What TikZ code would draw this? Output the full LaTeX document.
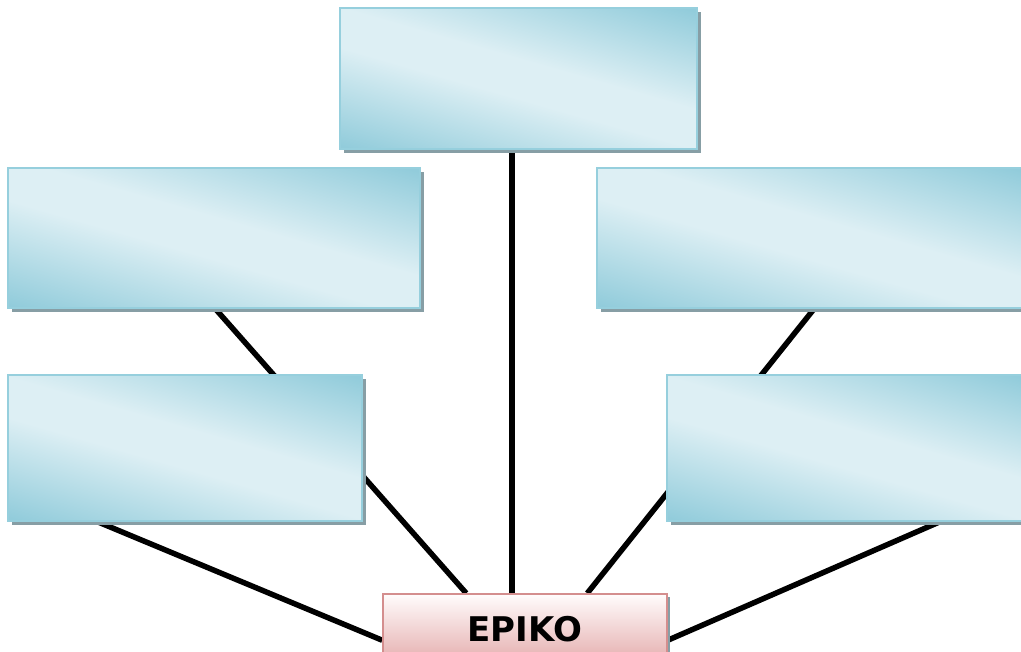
\documentclass[tikz,border=0pt]{standalone}
\usepackage{fontspec}
\setmainfont{DejaVu Sans}
\usetikzlibrary{calc,shadows,backgrounds}
\definecolor{bdark}{RGB}{146,204,219}
\definecolor{blight}{RGB}{221,239,244}
\definecolor{bborder}{RGB}{150,207,221}
\definecolor{shad}{RGB}{135,158,165}
\definecolor{ptop}{RGB}{255,252,252}
\definecolor{pbot}{RGB}{228,172,172}
\definecolor{pborder}{RGB}{212,142,142}
\pgfdeclareverticalshading{boxshade}{100bp}{color(0bp)=(bdark); color(20bp)=(bdark); color(45bp)=(blight); color(55bp)=(blight); color(80bp)=(bdark); color(100bp)=(bdark)}
\tikzset{
  bluebox/.style={draw=bborder, line width=2.5pt, inner sep=0pt,
    shading=boxshade, shading angle=-16,
    general shadow={fill=shad, shadow xshift=4pt, shadow yshift=-4pt}},
  pinkbox/.style={draw=pborder, line width=1.5pt, inner sep=0pt,
    top color=ptop, bottom color=pbot,
    general shadow={fill=shad, shadow xshift=3pt, shadow yshift=-3pt},
    font=\fontsize{34}{40}\selectfont\bfseries},
  conn/.style={line width=5.5pt, black}
}
\begin{document}
\begin{tikzpicture}[x=1pt,y=-1pt]
\useasboundingbox (0,0) rectangle (1021,652);
\clip (0,0) rectangle (1021,652);
\node[bluebox, minimum width=357pt, minimum height=141pt] (top) at (518.5,78.5) {};
\node[bluebox, minimum width=412pt, minimum height=140pt] (lu) at (214,238) {};
\node[bluebox, minimum width=428pt, minimum height=140pt] (ru) at (811,238) {};
\node[bluebox, minimum width=354pt, minimum height=146pt] (ll) at (185,448) {};
\node[bluebox, minimum width=358pt, minimum height=146pt] (rl) at (846,448) {};
\node[pinkbox, minimum width=284pt, minimum height=70pt] (ep) at (525,629) {EPIKO};
\begin{pgfonlayer}{background}
\coordinate (a1) at ($(lu.south west)+(209,0)$);
\coordinate (a2) at ($(ep.north west)+(84,0)$);
\coordinate (b1) at ($(ru.south west)+(218,0)$);
\coordinate (b2) at ($(ep.north west)+(205,0)$);
\coordinate (c1) at ($(ll.south west)+(92,0)$);
\coordinate (c2) at ($(ep.north west)+(0,47)$);
\coordinate (d1) at ($(rl.south west)+(273,0)$);
\coordinate (d2) at ($(ep.north east)+(0,47)$);
\draw[conn] (top.south -| 512,0) -- (ep.north -| 512,0);
\draw[conn] (a1) -- (a2);
\draw[conn] (b1) -- (b2);
\draw[conn] (c1) -- (c2);
\draw[conn] (d1) -- (d2);
\end{pgfonlayer}
\end{tikzpicture}
\end{document}
